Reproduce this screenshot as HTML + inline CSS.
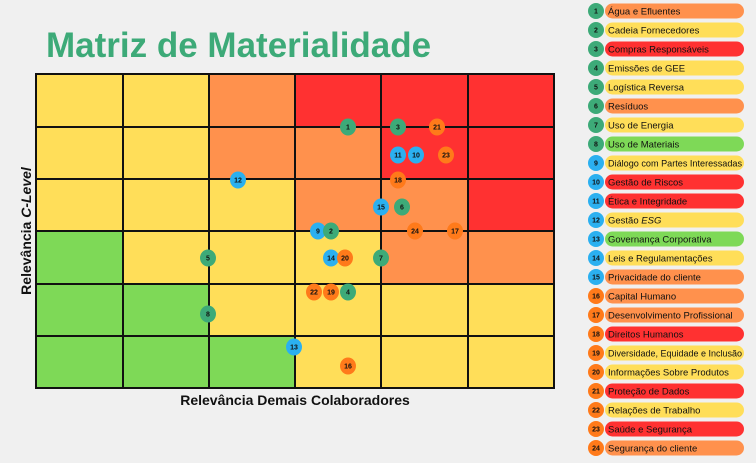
<!DOCTYPE html><html><head><meta charset="utf-8"><style>body{margin:0;background:#f0f0f0}svg{display:block;font-family:"Liberation Sans",sans-serif}</style></head><body>
<svg width="756" height="463" xmlns="http://www.w3.org/2000/svg">
<rect width="756" height="463" fill="#f0f0f0"/>
<text x="46" y="57" font-size="35" font-weight="bold" fill="#3daa78">Matriz de Materialidade</text>
<g>
<rect x="36" y="74" width="87" height="53" fill="#ffde59"/><rect x="123" y="74" width="86" height="53" fill="#ffde59"/><rect x="209" y="74" width="86" height="53" fill="#ff914d"/><rect x="295" y="74" width="86" height="53" fill="#ff3131"/><rect x="381" y="74" width="87" height="53" fill="#ff3131"/><rect x="468" y="74" width="86" height="53" fill="#ff3131"/>
<rect x="36" y="127" width="87" height="52" fill="#ffde59"/><rect x="123" y="127" width="86" height="52" fill="#ffde59"/><rect x="209" y="127" width="86" height="52" fill="#ff914d"/><rect x="295" y="127" width="86" height="52" fill="#ff914d"/><rect x="381" y="127" width="87" height="52" fill="#ff3131"/><rect x="468" y="127" width="86" height="52" fill="#ff3131"/>
<rect x="36" y="179" width="87" height="52" fill="#ffde59"/><rect x="123" y="179" width="86" height="52" fill="#ffde59"/><rect x="209" y="179" width="86" height="52" fill="#ffde59"/><rect x="295" y="179" width="86" height="52" fill="#ff914d"/><rect x="381" y="179" width="87" height="52" fill="#ff914d"/><rect x="468" y="179" width="86" height="52" fill="#ff3131"/>
<rect x="36" y="231" width="87" height="53" fill="#7ed957"/><rect x="123" y="231" width="86" height="53" fill="#ffde59"/><rect x="209" y="231" width="86" height="53" fill="#ffde59"/><rect x="295" y="231" width="86" height="53" fill="#ffde59"/><rect x="381" y="231" width="87" height="53" fill="#ff914d"/><rect x="468" y="231" width="86" height="53" fill="#ff914d"/>
<rect x="36" y="284" width="87" height="52" fill="#7ed957"/><rect x="123" y="284" width="86" height="52" fill="#7ed957"/><rect x="209" y="284" width="86" height="52" fill="#ffde59"/><rect x="295" y="284" width="86" height="52" fill="#ffde59"/><rect x="381" y="284" width="87" height="52" fill="#ffde59"/><rect x="468" y="284" width="86" height="52" fill="#ffde59"/>
<rect x="36" y="336" width="87" height="52" fill="#7ed957"/><rect x="123" y="336" width="86" height="52" fill="#7ed957"/><rect x="209" y="336" width="86" height="52" fill="#7ed957"/><rect x="295" y="336" width="86" height="52" fill="#ffde59"/><rect x="381" y="336" width="87" height="52" fill="#ffde59"/><rect x="468" y="336" width="86" height="52" fill="#ffde59"/>
</g>
<g stroke="#111" stroke-width="2">
<line x1="36" y1="73" x2="36" y2="389"/><line x1="123" y1="73" x2="123" y2="389"/><line x1="209" y1="73" x2="209" y2="389"/><line x1="295" y1="73" x2="295" y2="389"/><line x1="381" y1="73" x2="381" y2="389"/><line x1="468" y1="73" x2="468" y2="389"/><line x1="554" y1="73" x2="554" y2="389"/>
<line x1="35" y1="74" x2="555" y2="74"/><line x1="35" y1="127" x2="555" y2="127"/><line x1="35" y1="179" x2="555" y2="179"/><line x1="35" y1="231" x2="555" y2="231"/><line x1="35" y1="284" x2="555" y2="284"/><line x1="35" y1="336" x2="555" y2="336"/><line x1="35" y1="388" x2="555" y2="388"/>
</g>
<text x="295" y="405" font-size="14" font-weight="bold" text-anchor="middle" fill="#111">Relevância Demais Colaboradores</text>
<text transform="translate(31,231) rotate(-90)" font-size="14" font-weight="bold" text-anchor="middle" fill="#111">Relevância <tspan font-style="italic">C-Level</tspan></text>
<g font-size="7" font-weight="bold" text-anchor="middle" fill="#111">
<ellipse cx="348" cy="127" rx="8" ry="8.5" fill="#3daa78"/><text x="348" y="129.5">1</text>
<ellipse cx="398" cy="127" rx="8" ry="8.5" fill="#3daa78"/><text x="398" y="129.5">3</text>
<ellipse cx="437" cy="127" rx="8" ry="8.5" fill="#ff7a1a"/><text x="437" y="129.5">21</text>
<ellipse cx="398" cy="155" rx="8" ry="8.5" fill="#2bb0f0"/><text x="398" y="157.5">11</text>
<ellipse cx="416" cy="155" rx="8" ry="8.5" fill="#2bb0f0"/><text x="416" y="157.5">10</text>
<ellipse cx="446" cy="155" rx="8" ry="8.5" fill="#ff7a1a"/><text x="446" y="157.5">23</text>
<ellipse cx="238" cy="180" rx="8" ry="8.5" fill="#2bb0f0"/><text x="238" y="182.5">12</text>
<ellipse cx="398" cy="180" rx="8" ry="8.5" fill="#ff7a1a"/><text x="398" y="182.5">18</text>
<ellipse cx="381" cy="207" rx="8" ry="8.5" fill="#2bb0f0"/><text x="381" y="209.5">15</text>
<ellipse cx="402" cy="207" rx="8" ry="8.5" fill="#3daa78"/><text x="402" y="209.5">6</text>
<ellipse cx="318" cy="231" rx="8" ry="8.5" fill="#2bb0f0"/><text x="318" y="233.5">9</text>
<ellipse cx="331" cy="231" rx="8" ry="8.5" fill="#3daa78"/><text x="331" y="233.5">2</text>
<ellipse cx="415" cy="231" rx="8" ry="8.5" fill="#ff7a1a"/><text x="415" y="233.5">24</text>
<ellipse cx="455" cy="231" rx="8" ry="8.5" fill="#ff7a1a"/><text x="455" y="233.5">17</text>
<ellipse cx="208" cy="258" rx="8" ry="8.5" fill="#3daa78"/><text x="208" y="260.5">5</text>
<ellipse cx="331" cy="258" rx="8" ry="8.5" fill="#2bb0f0"/><text x="331" y="260.5">14</text>
<ellipse cx="345" cy="258" rx="8" ry="8.5" fill="#ff7a1a"/><text x="345" y="260.5">20</text>
<ellipse cx="381" cy="258" rx="8" ry="8.5" fill="#3daa78"/><text x="381" y="260.5">7</text>
<ellipse cx="314" cy="292" rx="8" ry="8.5" fill="#ff7a1a"/><text x="314" y="294.5">22</text>
<ellipse cx="331" cy="292" rx="8" ry="8.5" fill="#ff7a1a"/><text x="331" y="294.5">19</text>
<ellipse cx="348" cy="292" rx="8" ry="8.5" fill="#3daa78"/><text x="348" y="294.5">4</text>
<ellipse cx="208" cy="314" rx="8" ry="8.5" fill="#3daa78"/><text x="208" y="316.5">8</text>
<ellipse cx="294" cy="347" rx="8" ry="8.5" fill="#2bb0f0"/><text x="294" y="349.5">13</text>
<ellipse cx="348" cy="366" rx="8" ry="8.5" fill="#ff7a1a"/><text x="348" y="368.5">16</text>
</g>
<g>
<rect x="605" y="3.5" width="139" height="15" rx="7.5" fill="#ff914d"/>
<rect x="605" y="22.5" width="139" height="15" rx="7.5" fill="#ffde59"/>
<rect x="605" y="41.5" width="139" height="15" rx="7.5" fill="#ff3131"/>
<rect x="605" y="60.5" width="139" height="15" rx="7.5" fill="#ffde59"/>
<rect x="605" y="79.5" width="139" height="15" rx="7.5" fill="#ffde59"/>
<rect x="605" y="98.5" width="139" height="15" rx="7.5" fill="#ff914d"/>
<rect x="605" y="117.5" width="139" height="15" rx="7.5" fill="#ffde59"/>
<rect x="605" y="136.5" width="139" height="15" rx="7.5" fill="#7ed957"/>
<rect x="605" y="155.5" width="139" height="15" rx="7.5" fill="#ffde59"/>
<rect x="605" y="174.5" width="139" height="15" rx="7.5" fill="#ff3131"/>
<rect x="605" y="193.5" width="139" height="15" rx="7.5" fill="#ff3131"/>
<rect x="605" y="212.5" width="139" height="15" rx="7.5" fill="#ffde59"/>
<rect x="605" y="231.5" width="139" height="15" rx="7.5" fill="#7ed957"/>
<rect x="605" y="250.5" width="139" height="15" rx="7.5" fill="#ffde59"/>
<rect x="605" y="269.5" width="139" height="15" rx="7.5" fill="#ff914d"/>
<rect x="605" y="288.5" width="139" height="15" rx="7.5" fill="#ff914d"/>
<rect x="605" y="307.5" width="139" height="15" rx="7.5" fill="#ff914d"/>
<rect x="605" y="326.5" width="139" height="15" rx="7.5" fill="#ff3131"/>
<rect x="605" y="345.5" width="139" height="15" rx="7.5" fill="#ffde59"/>
<rect x="605" y="364.5" width="139" height="15" rx="7.5" fill="#ffde59"/>
<rect x="605" y="383.5" width="139" height="15" rx="7.5" fill="#ff3131"/>
<rect x="605" y="402.5" width="139" height="15" rx="7.5" fill="#ffde59"/>
<rect x="605" y="421.5" width="139" height="15" rx="7.5" fill="#ff3131"/>
<rect x="605" y="440.5" width="139" height="15" rx="7.5" fill="#ff914d"/>
</g>
<g>
<circle cx="596" cy="11" r="8" fill="#3daa78"/><circle cx="596" cy="30" r="8" fill="#3daa78"/><circle cx="596" cy="49" r="8" fill="#3daa78"/><circle cx="596" cy="68" r="8" fill="#3daa78"/><circle cx="596" cy="87" r="8" fill="#3daa78"/><circle cx="596" cy="106" r="8" fill="#3daa78"/><circle cx="596" cy="125" r="8" fill="#3daa78"/><circle cx="596" cy="144" r="8" fill="#3daa78"/>
<circle cx="596" cy="163" r="8" fill="#2bb0f0"/><circle cx="596" cy="182" r="8" fill="#2bb0f0"/><circle cx="596" cy="201" r="8" fill="#2bb0f0"/><circle cx="596" cy="220" r="8" fill="#2bb0f0"/><circle cx="596" cy="239" r="8" fill="#2bb0f0"/><circle cx="596" cy="258" r="8" fill="#2bb0f0"/><circle cx="596" cy="277" r="8" fill="#2bb0f0"/>
<circle cx="596" cy="296" r="8" fill="#ff7a1a"/><circle cx="596" cy="315" r="8" fill="#ff7a1a"/><circle cx="596" cy="334" r="8" fill="#ff7a1a"/><circle cx="596" cy="353" r="8" fill="#ff7a1a"/><circle cx="596" cy="372" r="8" fill="#ff7a1a"/><circle cx="596" cy="391" r="8" fill="#ff7a1a"/><circle cx="596" cy="410" r="8" fill="#ff7a1a"/><circle cx="596" cy="429" r="8" fill="#ff7a1a"/><circle cx="596" cy="448" r="8" fill="#ff7a1a"/>
</g>
<g font-size="7" font-weight="bold" text-anchor="middle" fill="#111">
<text x="596" y="13.5">1</text><text x="596" y="32.5">2</text><text x="596" y="51.5">3</text><text x="596" y="70.5">4</text><text x="596" y="89.5">5</text><text x="596" y="108.5">6</text><text x="596" y="127.5">7</text><text x="596" y="146.5">8</text><text x="596" y="165.5">9</text><text x="596" y="184.5">10</text><text x="596" y="203.5">11</text><text x="596" y="222.5">12</text><text x="596" y="241.5">13</text><text x="596" y="260.5">14</text><text x="596" y="279.5">15</text><text x="596" y="298.5">16</text><text x="596" y="317.5">17</text><text x="596" y="336.5">18</text><text x="596" y="355.5">19</text><text x="596" y="374.5">20</text><text x="596" y="393.5">21</text><text x="596" y="412.5">22</text><text x="596" y="431.5">23</text><text x="596" y="450.5">24</text>
</g>
<g font-size="9.5" fill="#111">
<text x="608" y="14.5">Água e Efluentes</text>
<text x="608" y="33.5">Cadeia Fornecedores</text>
<text x="608" y="52.5">Compras Responsáveis</text>
<text x="608" y="71.5">Emissões de GEE</text>
<text x="608" y="90.5">Logística Reversa</text>
<text x="608" y="109.5">Resíduos</text>
<text x="608" y="128.5">Uso de Energia</text>
<text x="608" y="147.5">Uso de Materiais</text>
<text x="608" y="166.5" textLength="134" lengthAdjust="spacingAndGlyphs">Diálogo com Partes Interessadas</text>
<text x="608" y="185.5">Gestão de Riscos</text>
<text x="608" y="204.5">Ética e Integridade</text>
<text x="608" y="223.5">Gestão <tspan font-style="italic">ESG</tspan></text>
<text x="608" y="242.5">Governança Corporativa</text>
<text x="608" y="261.5">Leis e Regulamentações</text>
<text x="608" y="280.5">Privacidade do cliente</text>
<text x="608" y="299.5">Capital Humano</text>
<text x="608" y="318.5">Desenvolvimento Profissional</text>
<text x="608" y="337.5">Direitos Humanos</text>
<text x="608" y="356.5" textLength="134" lengthAdjust="spacingAndGlyphs">Diversidade, Equidade e Inclusão</text>
<text x="608" y="375.5">Informações Sobre Produtos</text>
<text x="608" y="394.5">Proteção de Dados</text>
<text x="608" y="413.5">Relações de Trabalho</text>
<text x="608" y="432.5">Saúde e Segurança</text>
<text x="608" y="451.5">Segurança do cliente</text>
</g>
</svg></body></html>
